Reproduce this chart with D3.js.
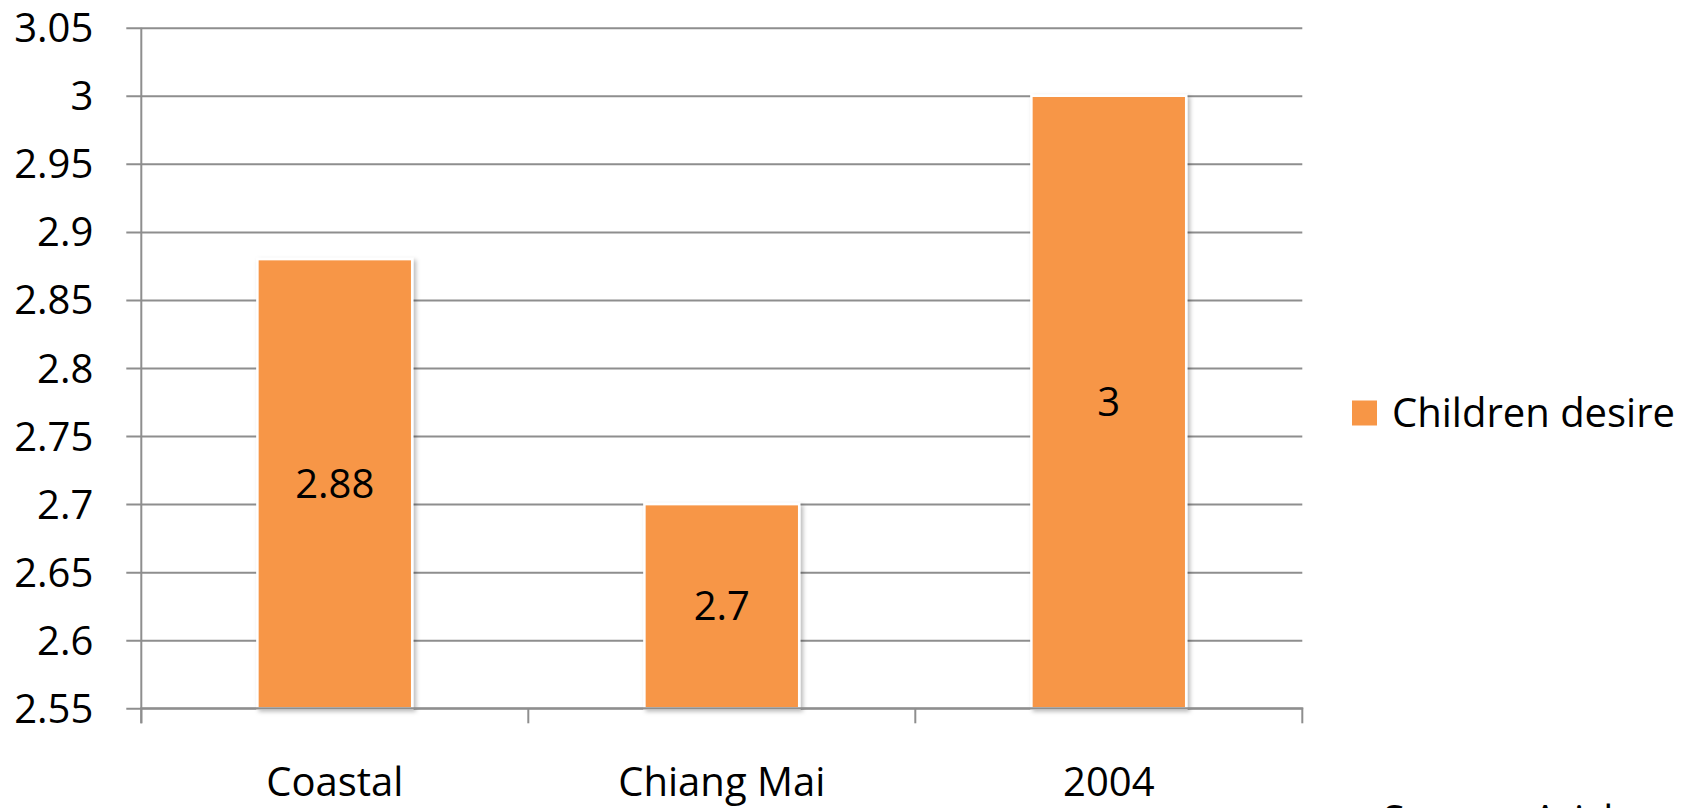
<!DOCTYPE html>
<html>
<head>
<meta charset="utf-8">
<script src="https://cdn.jsdelivr.net/npm/d3@7"></script>
<style>
  html, body { margin: 0; padding: 0; background: #fff; }
  svg { display: block; font-family: "Open Sans", "Noto Sans", sans-serif; }
</style>
</head>
<body>
<svg id="chart" width="1698" height="808"></svg>
<script>
// Average number of children desired, by region
const categories = ["Coastal", "Chiang Mai", "2004"];
const childrenDesire = [2.88, 2.7, 3];
const seriesName = "Children desire";
const yTicks = [2.55, 2.6, 2.65, 2.7, 2.75, 2.8, 2.85, 2.9, 2.95, 3, 3.05];
const sourceNote = "Source: Arisk";

const svg = d3.select("#chart");
const plot = { left: 141.3, right: 1302.3, top: 27.7, bottom: 708.3 };
const gridColor = "#8e8e8e";
const barColor = "#F79646";
const fontSize = 40;

const y = d3.scaleLinear().domain([2.55, 3.05]).range([plot.bottom, plot.top]);
const xCat = d3.scaleBand().domain(categories).range([plot.left, plot.right]);
const xBar = d3.scaleBand().domain(categories).range([plot.left, plot.right])
  .paddingInner(0.6).paddingOuter(0.3);

// soft shadow under the bars
const defs = svg.append("defs");
const f = defs.append("filter").attr("id", "barShadow")
  .attr("x", "-10%").attr("y", "-10%").attr("width", "130%").attr("height", "130%");
f.append("feDropShadow").attr("dx", 2.5).attr("dy", 2).attr("stdDeviation", 2.2)
  .attr("flood-color", "#000").attr("flood-opacity", 0.28);

// horizontal gridlines with left tick stubs
const yAxis = d3.axisLeft(y).tickValues(yTicks).tickFormat(d3.format("")).tickSize(0).tickPadding(0);
const yg = svg.append("g").attr("transform", `translate(${plot.left},0)`).call(yAxis);
yg.select(".domain").remove();
yg.selectAll(".tick line")
  .attr("x1", -15).attr("x2", plot.right - plot.left)
  .attr("stroke", gridColor).attr("stroke-width", 2);
yg.selectAll(".tick text")
  .attr("x", -48).attr("dy", "0.35em")
  .attr("font-size", fontSize).attr("fill", "#000")
  .attr("font-family", "'Open Sans', sans-serif")
  .text(d => String(d));

// vertical axis line
svg.append("line")
  .attr("x1", plot.left).attr("x2", plot.left)
  .attr("y1", plot.top).attr("y2", plot.bottom + 15)
  .attr("stroke", gridColor).attr("stroke-width", 2);

// bars
svg.append("g").selectAll("rect")
  .data(categories)
  .join("rect")
  .attr("x", d => xBar(d))
  .attr("width", xBar.bandwidth())
  .attr("y", (d, i) => y(childrenDesire[i]))
  .attr("height", (d, i) => y(2.55) - y(childrenDesire[i]))
  .attr("fill", barColor)
  .attr("stroke", "#fff").attr("stroke-width", 2.5)
  .attr("filter", "url(#barShadow)");

// category axis along the bottom
const xAxis = d3.axisBottom(xCat).tickSize(0).tickPadding(0);
const xg = svg.append("g").attr("transform", `translate(0,${plot.bottom})`).call(xAxis);
xg.select(".domain").remove();
xg.selectAll(".tick line").remove();
xg.selectAll(".tick text")
  .attr("y", 88).attr("dy", 0)
  .attr("font-size", fontSize).attr("fill", "#000")
  .attr("font-family", "'Open Sans', sans-serif");

svg.append("line")
  .attr("x1", plot.left - 1).attr("x2", plot.right + 1)
  .attr("y1", plot.bottom).attr("y2", plot.bottom)
  .attr("stroke", gridColor).attr("stroke-width", 2);

const boundaries = categories.map(c => xCat(c)).concat([xCat.range()[1]]);
svg.append("g").selectAll("line")
  .data(boundaries)
  .join("line")
  .attr("x1", d => d).attr("x2", d => d)
  .attr("y1", plot.bottom).attr("y2", plot.bottom + 15)
  .attr("stroke", gridColor).attr("stroke-width", 2);

// value labels centred in each bar
svg.append("g").selectAll("text")
  .data(categories)
  .join("text")
  .attr("x", d => xBar(d) + xBar.bandwidth() / 2)
  .attr("y", (d, i) => (y(childrenDesire[i]) + y(2.55)) / 2)
  .attr("dy", "0.35em")
  .attr("text-anchor", "middle")
  .attr("font-size", fontSize).attr("fill", "#000")
  .text((d, i) => String(childrenDesire[i]));

// legend
const lg = svg.append("g").attr("transform", "translate(1352,400.5)");
lg.append("rect").attr("width", 25).attr("height", 25).attr("fill", barColor);
lg.append("text").attr("x", 40).attr("y", 12.5).attr("dy", "0.35em")
  .attr("font-size", fontSize).attr("fill", "#000").text(seriesName);

// source note at the lower right, running off the bottom edge
svg.append("text").attr("x", 1383).attr("y", 834)
  .attr("font-size", fontSize).attr("fill", "#000").text(sourceNote);
</script>
</body>
</html>
